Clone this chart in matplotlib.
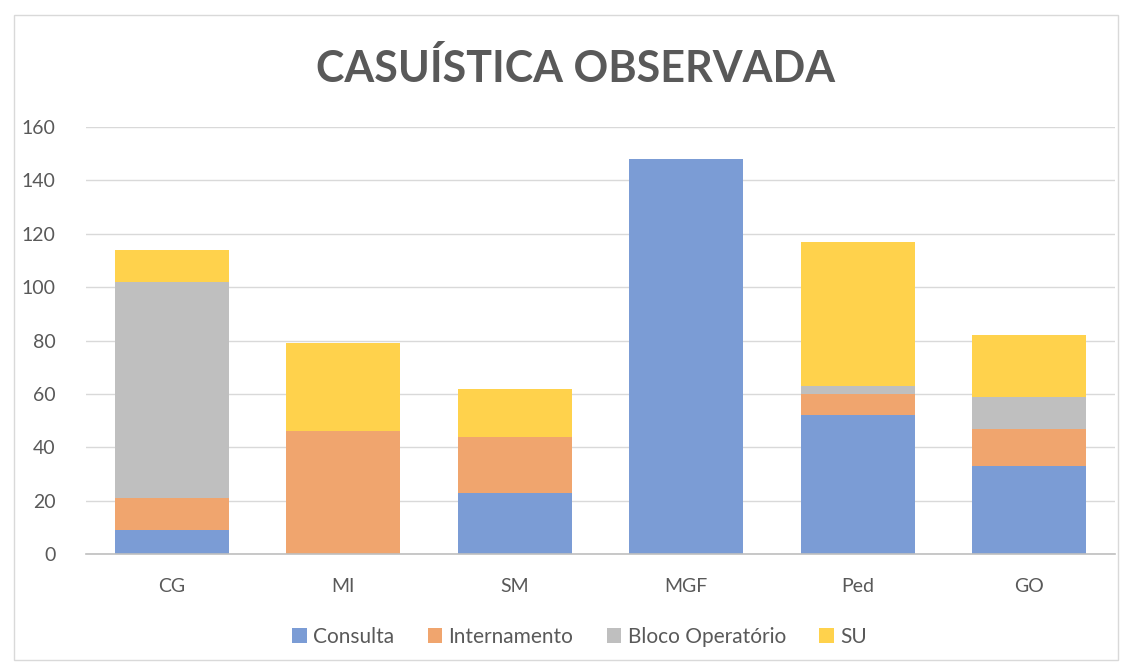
import matplotlib.pyplot as plt
from matplotlib.patches import Rectangle
import numpy as np

categorias = ["CG", "MI", "SM", "MGF", "Ped", "GO"]
consulta = [9, 0, 23, 148, 52, 33]
internamento = [12, 46, 21, 0, 8, 14]
bloco = [81, 0, 0, 0, 3, 12]
su = [12, 33, 18, 0, 54, 23]

series = [
    ("Consulta", consulta, "#7B9CD5"),
    ("Internamento", internamento, "#F0A56E"),
    ("Bloco Operatório", bloco, "#BFBFBF"),
    ("SU", su, "#FFD24C"),
]

plt.rcParams['font.family'] = ['Lato', 'DejaVu Sans']
cinza = "#595959"

fig = plt.figure(figsize=(11.32, 6.67), dpi=100)
ax = fig.add_axes([0.076, 0.1694, 0.909, 0.6402])

x = np.arange(len(categorias))
base = np.zeros(len(categorias))
for nome, vals, cor in series:
    ax.bar(x, vals, bottom=base, width=0.665, color=cor, label=nome, zorder=2)
    base += np.array(vals)

ax.set_xlim(-0.5, len(categorias) - 0.5)
ax.set_ylim(0, 160)
ax.set_yticks(range(0, 161, 20))
ax.set_xticks(x)
ax.set_xticklabels(categorias)
ax.tick_params(axis='both', length=0, labelsize=14, colors=cinza)
ax.tick_params(axis='x', pad=17)
ax.tick_params(axis='y', pad=22)
ax.grid(axis='y', color="#D9D9D9", linewidth=1, zorder=0)
for s in ["top", "right", "left"]:
    ax.spines[s].set_visible(False)
ax.spines["bottom"].set_color("#BFBFBF")
ax.spines["bottom"].set_linewidth(1.2)

fig.text(0.5085, 0.897, "CASUÍSTICA OBSERVADA", ha='center', va='center',
         fontsize=31, fontweight='bold', color=cinza)

fig.legend(loc='center', bbox_to_anchor=(0.512, 0.045), ncol=4, frameon=False,
           fontsize=15, labelcolor=cinza, handlelength=0.7, handleheight=0.7,
           handletextpad=0.3, columnspacing=1.6)

fig.patches.append(Rectangle((0.012, 0.01), 0.976, 0.968, transform=fig.transFigure,
                             fill=False, edgecolor="#D9D9D9", linewidth=1))

fig.savefig("out.png", dpi=100)
